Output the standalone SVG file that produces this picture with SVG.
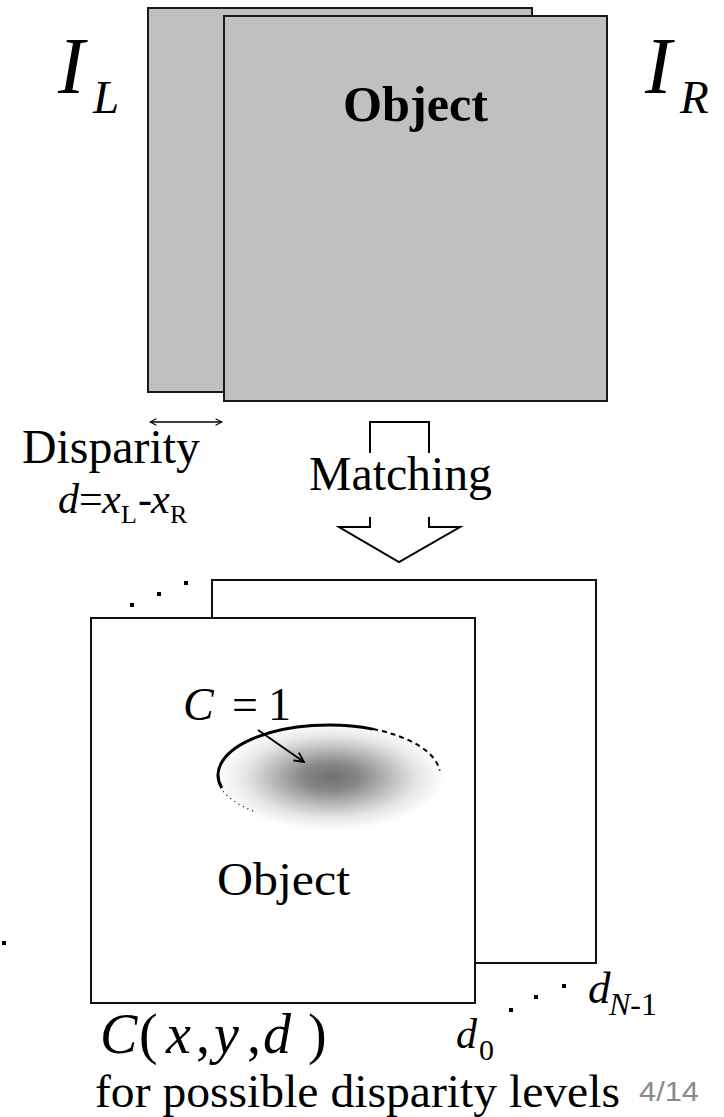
<svg xmlns="http://www.w3.org/2000/svg" width="724" height="1117" viewBox="0 0 724 1117">
<defs>
<style>
.serif{font-family:"Liberation Serif","Times New Roman",serif;fill:#000}
.it{font-style:italic}
.gray{fill:#c0c0c0;stroke:#1a1a1a;stroke-width:2}
.plane{fill:#fff;stroke:#111;stroke-width:2}
.ln{fill:none;stroke:#000;stroke-width:2}
.dot{fill:#000}
</style>
<marker id="oh" viewBox="0 0 10 10" refX="9" refY="5" markerWidth="8" markerHeight="8" markerUnits="userSpaceOnUse" orient="auto-start-reverse">
<path d="M1,1 L9,5 L1,9" fill="none" stroke="#000" stroke-width="1.3"/>
</marker>
<marker id="oh2" viewBox="0 0 10 10" refX="9" refY="5" markerWidth="12" markerHeight="12" markerUnits="userSpaceOnUse" orient="auto">
<path d="M1,1 L9,5 L1,9" fill="none" stroke="#000" stroke-width="1.5"/>
</marker>
<radialGradient id="blob" cx="0.5" cy="0.5" r="0.5">
<stop offset="0" stop-color="#000" stop-opacity="0.56"/>
<stop offset="0.25" stop-color="#000" stop-opacity="0.47"/>
<stop offset="0.5" stop-color="#000" stop-opacity="0.28"/>
<stop offset="0.75" stop-color="#000" stop-opacity="0.1"/>
<stop offset="1" stop-color="#000" stop-opacity="0"/>
</radialGradient>
</defs>
<rect width="724" height="1117" fill="#fff"/>

<g id="image-left">
<rect class="gray" x="148" y="8" width="384" height="384"/>
<text class="serif it" x="58" y="93" font-size="80">I</text>
<text class="serif it" x="93" y="113" font-size="47">L</text>
</g>
<g id="image-right">
<rect class="gray" x="224" y="16" width="383" height="385"/>
<text class="serif" x="415.5" y="121" font-size="50" font-weight="bold" text-anchor="middle" textLength="145" lengthAdjust="spacingAndGlyphs">Object</text>
<text class="serif it" x="645" y="93" font-size="80">I</text>
<text class="serif it" x="680" y="113" font-size="47">R</text>
</g>

<g id="disparity-label">
<text class="serif" x="22" y="463" font-size="48" textLength="178" lengthAdjust="spacingAndGlyphs">Disparity</text>
<text class="serif" y="513" font-size="42"><tspan class="it" x="58">d</tspan><tspan x="79">=</tspan><tspan class="it" x="102">x</tspan><tspan x="121" y="523" font-size="26">L</tspan><tspan x="138" y="513">-</tspan><tspan class="it" x="151">x</tspan><tspan x="170" y="523" font-size="26">R</tspan></text>
</g>

<g id="matching-label">
<text class="serif" x="309" y="490" font-size="48" textLength="183" lengthAdjust="spacingAndGlyphs">Matching</text>
</g>

<g id="cost-plane-back">
<rect class="plane" x="212" y="580" width="384" height="383"/>
<rect class="dot" x="130" y="603" width="4" height="4"/>
<rect class="dot" x="157" y="592" width="4" height="4"/>
<rect class="dot" x="184" y="581" width="4" height="4"/>
</g>

<g id="cost-plane-front">
<rect class="plane" x="91" y="618" width="384" height="385"/>
<ellipse cx="331" cy="777" rx="114" ry="54" fill="url(#blob)"/>
<path d="M221.8,787.9 A111,50 0 0 1 373,729.1" fill="none" stroke="#000" stroke-width="3"/>
<path d="M373,729.1 A111,50 0 0 1 439.6,770.6" fill="none" stroke="#000" stroke-width="2" stroke-dasharray="5 4"/>
<path d="M253,811 A111,50 0 0 1 222,790" fill="none" stroke="#000" stroke-width="1.2" stroke-dasharray="1 4"/>
<text class="serif" y="720" font-size="46"><tspan class="it" x="183">C</tspan><tspan x="232">=</tspan><tspan x="268">1</tspan></text>
<text class="serif" x="217" y="895" font-size="46" textLength="133" lengthAdjust="spacingAndGlyphs">Object</text>
</g>

<g id="cost-volume-labels">
<rect class="dot" x="2" y="941" width="4" height="4"/>
<text class="serif" y="1053" font-size="56"><tspan class="it" x="100">C</tspan><tspan x="139">(</tspan><tspan class="it" x="166">x</tspan><tspan x="196">,</tspan><tspan class="it" x="214">y</tspan><tspan x="247">,</tspan><tspan class="it" x="263">d</tspan><tspan x="308">)</tspan></text>
<text class="serif" y="1048" font-size="42"><tspan class="it" x="456">d</tspan><tspan x="479" y="1060" font-size="30">0</tspan></text>
<rect class="dot" x="509" y="1008" width="4" height="4"/>
<rect class="dot" x="534" y="995" width="4" height="4"/>
<rect class="dot" x="562" y="984" width="4" height="4"/>
<text class="serif" y="1003" font-size="45"><tspan class="it" x="588">d</tspan><tspan class="it" x="609" y="1015" font-size="32">N</tspan><tspan y="1015" font-size="32">-1</tspan></text>
<text class="serif" x="95" y="1107" font-size="46" textLength="525" lengthAdjust="spacingAndGlyphs">for possible disparity levels</text>
<text x="639" y="1101" font-family="'Liberation Sans', Arial, sans-serif" font-size="27" fill="#8a8a8a" textLength="60" lengthAdjust="spacingAndGlyphs">4/14</text>
</g>

<g id="connectors">
<line x1="150" y1="422" x2="222" y2="422" stroke="#000" stroke-width="1.5" marker-start="url(#oh)" marker-end="url(#oh)"/>
<path class="ln" d="M370,453 V422 H429 V453"/>
<path class="ln" d="M370,517 V527 H339 L399,562 L460,527 H429 V517"/>
<line x1="258" y1="730" x2="304" y2="762" stroke="#000" stroke-width="2" marker-end="url(#oh2)"/>
</g>
</svg>
